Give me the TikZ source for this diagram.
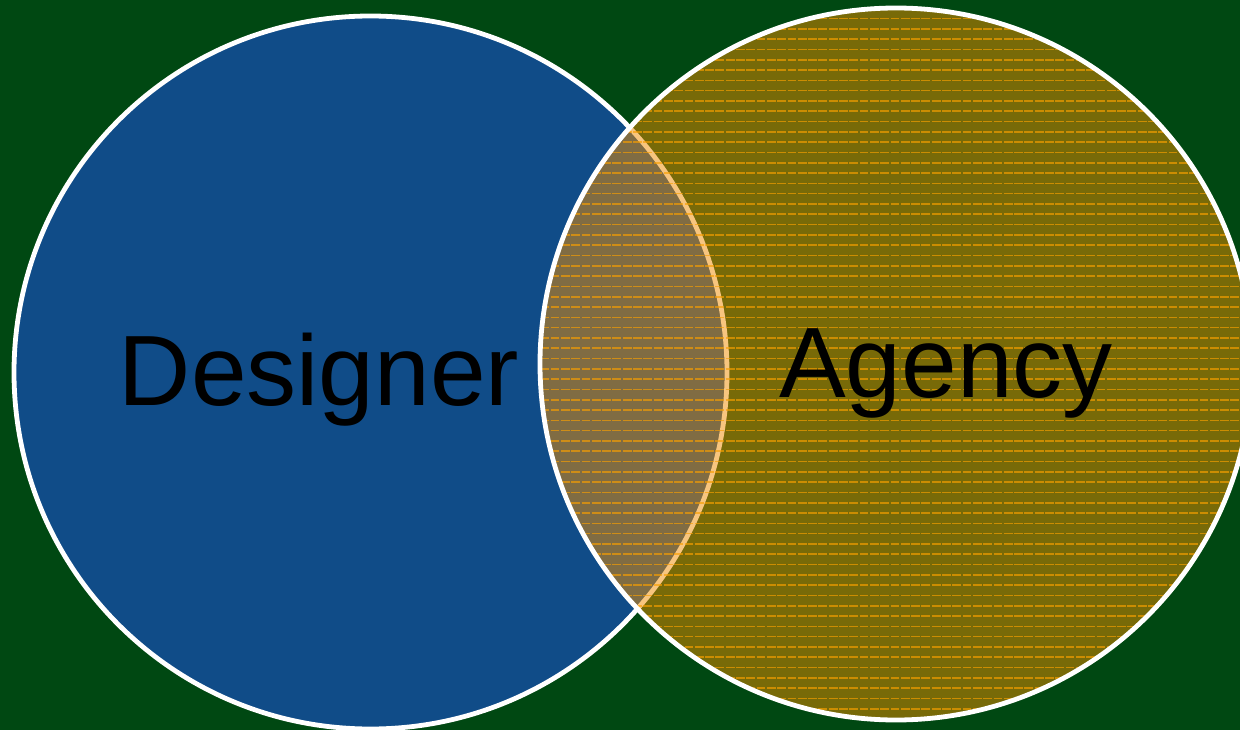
\documentclass[tikz,border=0pt]{standalone}
\usepackage{fontspec}
\setmainfont{Liberation Sans}
\definecolor{bggreen}{RGB}{0,72,18}
\definecolor{dblue}{RGB}{16,76,136}
\definecolor{aorange}{RGB}{240,140,0}
\definecolor{hatch}{RGB}{250,160,0}
\tikzset{
  setcircle/.style={draw=white, line width=4.8pt},
  bigtext/.style={anchor=base, inner sep=0pt, font=\fontsize{100}{120}\selectfont, text=black},
}
\begin{document}
\begin{tikzpicture}[x=1pt,y=-1pt]
\useasboundingbox (0,0) rectangle (1240,730);
\fill[bggreen] (0,0) rectangle (1240,730);
% left circle
\fill[dblue] (370.5,372.5) circle (356.5);
\draw[setcircle] (370.5,372.5) circle (356.5);
% right circle
\fill[aorange, fill opacity=0.5] (896,364) circle (356);
\begin{scope}
  \clip (896,364) circle (356);
  \foreach \k in {0,...,70} {
    \draw[hatch, opacity=0.65, line width=1.6pt, dash pattern=on 8.8pt off 1.5pt]
      (530,{8.3+10.3*\k}) -- (1260,{8.3+10.3*\k});
  }
\end{scope}
\draw[setcircle] (896,364) circle (356);
\node[bigtext] (designer) at (319,405) {Designer};
\node[bigtext] (agency) at (946,397) {Agency};
\end{tikzpicture}
\end{document}
